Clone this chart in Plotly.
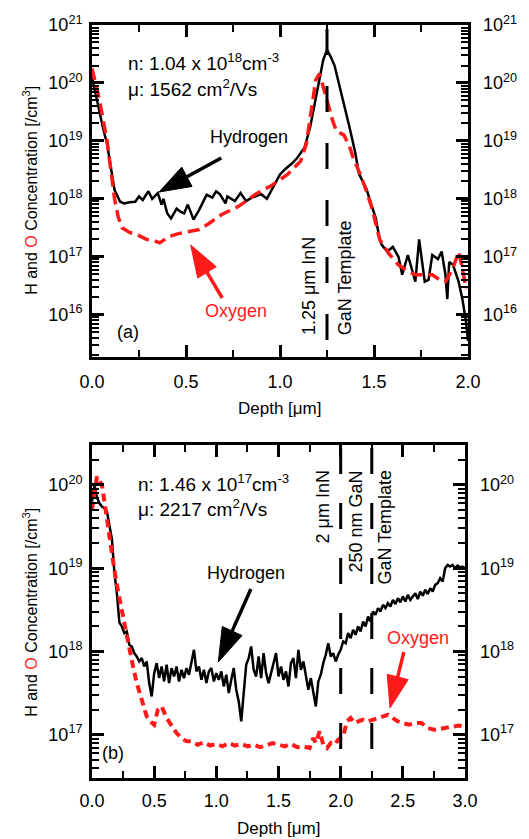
import numpy as np
import plotly.graph_objects as go

# ---------------- data (log10 of concentration, cm^-3) ----------------
# panel (a): 1.25 um InN on GaN template
hA_depth = [0.00,0.02,0.04,0.06,0.08,0.10,0.12,0.15,0.17,0.20,0.23,0.25,0.27,0.30,0.32,0.35,0.37,0.38,0.40,0.42,
            0.45,0.47,0.49,0.51,0.54,0.57,0.61,0.64,0.66,0.68,0.71,0.72,0.76,0.79,0.82,0.85,0.87,0.90,0.93,0.96,
            1.00,1.03,1.06,1.09,1.13,1.16,1.18,1.20,1.23,1.25,1.27,1.29,1.31,1.33,1.35,1.37,1.40,1.42,1.44,1.46,
            1.48,1.51,1.53,1.54,1.57,1.60,1.63,1.65,1.68,1.70,1.72,1.74,1.76,1.77,1.79,1.81,1.84,1.86,1.88,1.89,
            1.90,1.92,1.95,1.97,1.99,2.00]
hA_log = [20.10,19.80,19.47,19.20,18.95,18.55,18.15,17.95,17.92,17.94,17.95,18.04,17.98,18.13,18.00,18.10,17.90,18.00,17.75,17.66,
          17.83,17.78,17.75,17.90,17.64,17.81,18.07,18.02,18.13,18.08,17.92,18.04,17.96,18.10,17.96,18.02,18.04,18.08,18.00,18.18,
          18.42,18.52,18.60,18.70,18.88,19.23,19.55,19.92,20.40,20.57,20.45,20.30,20.05,19.78,19.50,19.23,18.80,18.43,18.30,18.17,
          17.96,17.66,17.30,17.21,17.09,17.17,17.00,16.69,17.03,16.79,16.57,17.30,16.74,16.57,16.60,17.03,16.96,17.09,16.69,16.27,
          16.91,16.86,16.57,16.27,15.87,15.55]
oA_depth = [0.00,0.02,0.04,0.06,0.08,0.10,0.12,0.14,0.16,0.20,0.24,0.29,0.33,0.36,0.41,0.46,0.50,0.57,0.62,0.69,
            0.78,0.87,0.95,1.04,1.11,1.14,1.17,1.19,1.21,1.23,1.25,1.28,1.30,1.34,1.37,1.39,1.43,1.46,1.49,1.53,
            1.58,1.63,1.68,1.72,1.77,1.81,1.85,1.88,1.92,1.95,1.97,1.99]
oA_log = [20.25,20.00,19.70,19.35,19.00,18.50,18.00,17.68,17.50,17.42,17.38,17.30,17.28,17.24,17.35,17.40,17.43,17.47,17.57,17.73,
          17.87,18.08,18.22,18.42,18.65,18.95,19.60,20.05,20.16,19.95,19.70,19.35,19.17,19.10,18.90,18.70,18.40,18.13,17.83,17.30,
          17.05,16.86,16.75,16.69,16.69,16.69,16.60,16.57,16.80,17.09,16.80,16.44]

# panel (b): 2 um InN / 250 nm GaN / GaN template
hB_depth = [0.00,0.02,0.04,0.06,0.08,0.10,0.12,0.14,0.16,0.18,0.20,0.22,0.24,0.26,0.28,0.30,0.32,0.34,0.36,0.38,
            0.40,0.42,0.44,0.46,0.48,0.50,0.52,0.54,0.56,0.58,0.60,0.62,0.64,0.66,0.68,0.70,0.72,0.74,0.76,0.78,
            0.80,0.82,0.84,0.86,0.88,0.90,0.92,0.94,0.96,0.98,1.00,1.02,1.04,1.06,1.08,1.10,1.12,1.14,1.16,1.18,
            1.20,1.22,1.24,1.26,1.28,1.30,1.32,1.34,1.36,1.38,1.40,1.42,1.44,1.46,1.48,1.50,1.52,1.54,1.56,1.58,
            1.60,1.62,1.64,1.66,1.68,1.70,1.72,1.74,1.76,1.78,1.80,1.82,1.84,1.86,1.88,1.90,1.92,1.94,1.96,1.98,
            2.00,2.02,2.04,2.06,2.08,2.10,2.12,2.14,2.16,2.18,2.20,2.22,2.24,2.26,2.28,2.30,2.32,2.34,2.36,2.38,
            2.40,2.42,2.44,2.46,2.48,2.50,2.52,2.54,2.56,2.58,2.60,2.62,2.64,2.66,2.68,2.70,2.72,2.74,2.76,2.78,
            2.80,2.82,2.84,2.86,2.88,2.90,2.92,2.94,2.96,2.98,3.00]
hB_log = [19.80,20.00,19.85,19.78,19.74,19.72,19.68,19.50,19.35,18.95,18.70,18.35,18.30,18.22,18.24,18.08,18.06,17.98,17.94,17.88,
          17.92,17.82,17.88,17.62,17.46,17.74,17.86,17.68,17.82,17.64,17.84,17.62,17.80,17.70,17.82,17.64,17.78,17.68,17.80,17.72,
          17.86,18.02,17.76,17.82,17.66,17.78,17.62,17.76,17.80,17.64,17.74,17.66,17.76,17.58,17.72,17.50,17.66,17.80,17.54,17.40,
          17.16,17.48,17.84,17.92,18.06,17.78,17.70,17.94,17.68,17.98,17.74,17.62,17.74,17.88,17.98,17.70,17.82,17.66,17.76,17.58,
          17.86,17.92,17.68,18.02,17.78,17.88,17.70,17.54,17.68,17.48,17.34,17.64,17.72,17.86,17.96,18.10,17.94,17.98,17.88,17.96,
          18.02,18.12,18.10,18.22,18.16,18.26,18.20,18.30,18.24,18.36,18.30,18.42,18.36,18.48,18.44,18.52,18.48,18.56,18.52,18.58,
          18.54,18.62,18.57,18.64,18.59,18.66,18.60,18.68,18.62,18.66,18.70,18.63,18.72,18.67,18.74,18.69,18.76,18.72,18.80,18.82,
          18.88,18.84,19.00,19.04,19.02,19.04,19.00,19.03,19.01,19.02,19.00]
oB_depth = [0.00,0.02,0.04,0.06,0.08,0.10,0.12,0.15,0.18,0.21,0.24,0.27,0.30,0.33,0.36,0.40,0.44,0.47,0.50,0.53,
            0.56,0.60,0.64,0.68,0.72,0.76,0.80,0.85,0.90,0.95,1.00,1.05,1.10,1.15,1.20,1.25,1.30,1.35,1.40,1.45,
            1.50,1.55,1.60,1.65,1.70,1.75,1.78,1.80,1.83,1.86,1.89,1.92,1.95,1.98,2.02,2.05,2.08,2.11,2.14,2.18,
            2.22,2.26,2.30,2.34,2.38,2.42,2.46,2.50,2.55,2.60,2.65,2.70,2.75,2.80,2.85,2.90,2.95,3.00]
oB_log = [19.70,19.95,20.10,20.05,20.00,19.80,19.58,19.25,18.98,18.72,18.48,18.25,18.05,17.82,17.62,17.40,17.22,17.16,17.12,17.30,
          17.34,17.20,17.10,17.02,16.96,16.92,16.92,16.88,16.91,16.87,16.89,16.86,16.90,16.87,16.89,16.86,16.88,16.85,16.87,16.90,
          16.88,16.86,16.89,16.85,16.86,16.84,16.96,16.90,17.04,16.88,16.84,16.90,16.88,16.94,16.98,17.16,17.20,17.14,17.16,17.18,
          17.16,17.18,17.20,17.22,17.24,17.20,17.16,17.14,17.12,17.14,17.14,17.08,17.06,17.07,17.08,17.10,17.11,17.09]

a_boundaries = [1.25]
b_boundaries = [2.0, 2.25]

a_xticks = [0.0, 0.5, 1.0, 1.5, 2.0]
a_xminor = [0.25, 0.75, 1.25, 1.75]
b_xticks = [0.0, 0.5, 1.0, 1.5, 2.0, 2.5, 3.0]
b_xminor = [0.25, 0.75, 1.25, 1.75, 2.25, 2.75]
a_ydecades = [16, 17, 18, 19, 20, 21]
b_ydecades = [17, 18, 19, 20]

# ---------------- geometry ----------------
W, H = 529, 839
L, R, T, B = 92, 56, 25, 61
PW, PH = W - L - R, H - T - B
FONT = "Arial, Liberation Sans, sans-serif"
RED = "#ff1a1a"


def px(x):
    return (x - L) / PW


def py(y):
    return (H - B - y) / PH


a_dom = [py(357), 1.0]
b_dom = [0.0, py(445)]


def dec_ticks(decs):
    vals = [10.0 ** d for d in decs]
    text = ["10<sup>%d</sup>" % d for d in decs]
    return vals, text


def minor_vals(lo, hi):
    return [m * 10.0 ** e for e in range(lo, hi) for m in range(2, 10)]


fig = go.Figure()

fig.add_trace(go.Scatter(x=hA_depth, y=[10 ** v for v in hA_log], mode="lines",
                         line=dict(color="black", width=2.5), xaxis="x", yaxis="y", showlegend=False))
fig.add_trace(go.Scatter(x=oA_depth, y=[10 ** v for v in oA_log], mode="lines",
                         line=dict(color=RED, width=3.5, dash="12px,6px"), xaxis="x", yaxis="y", showlegend=False))
fig.add_trace(go.Scatter(x=hB_depth, y=[10 ** v for v in hB_log], mode="lines",
                         line=dict(color="black", width=2.5), xaxis="x2", yaxis="y2", showlegend=False))
fig.add_trace(go.Scatter(x=oB_depth, y=[10 ** v for v in oB_log], mode="lines",
                         line=dict(color=RED, width=4, dash="8px,5px"), xaxis="x2", yaxis="y2", showlegend=False))
# invisible traces to hold the right-hand label axes
fig.add_trace(go.Scatter(x=[1.0], y=[1e18], mode="markers", marker=dict(opacity=0),
                         xaxis="x", yaxis="y3", showlegend=False, hoverinfo="skip"))
fig.add_trace(go.Scatter(x=[1.0], y=[1e18], mode="markers", marker=dict(opacity=0),
                         xaxis="x2", yaxis="y4", showlegend=False, hoverinfo="skip"))

tickfont = dict(family=FONT, size=18, color="black")
axis_common = dict(showline=True, linewidth=3, linecolor="black", mirror="ticks",
                   ticks="inside", ticklen=12, tickwidth=3, tickcolor="black",
                   showgrid=False, zeroline=False, tickfont=tickfont)

a_yv, a_yt = dec_ticks(a_ydecades)
b_yv, b_yt = dec_ticks(b_ydecades)

fig.update_layout(
    width=W, height=H, margin=dict(l=L, r=R, t=T, b=B),
    paper_bgcolor="white", plot_bgcolor="white",
    font=dict(family=FONT, size=17, color="black"),
    xaxis=dict(domain=[0, 1], anchor="y", range=[0, 2],
               tickvals=a_xticks, ticktext=["%.1f" % v for v in a_xticks], ticklabelstandoff=6,
               minor=dict(tickvals=a_xminor, ticks="inside", ticklen=7, tickwidth=2, tickcolor="black"),
               **axis_common),
    yaxis=dict(domain=a_dom, anchor="x", type="log", range=[15.27, 21.0],
               tickvals=a_yv, ticktext=a_yt, ticklabelstandoff=3,
               minor=dict(tickvals=minor_vals(15, 21), ticks="inside", ticklen=7, tickwidth=2, tickcolor="black"),
               **axis_common),
    yaxis3=dict(overlaying="y", anchor="x", side="right", type="log", range=[15.27, 21.0],
                tickvals=a_yv, ticktext=a_yt, ticks="", showline=False, showgrid=False,
                zeroline=False, tickfont=tickfont, ticklabelstandoff=14),
    xaxis2=dict(domain=[0, px(470)], anchor="y2", range=[0, 3],
                tickvals=b_xticks, ticktext=["%.1f" % v for v in b_xticks], ticklabelstandoff=4,
                minor=dict(tickvals=b_xminor, ticks="inside", ticklen=7, tickwidth=2, tickcolor="black"),
                **axis_common),
    yaxis2=dict(domain=b_dom, anchor="x2", type="log", range=[16.48, 20.48],
                tickvals=b_yv, ticktext=b_yt, ticklabelstandoff=3,
                minor=dict(tickvals=minor_vals(16, 21), ticks="inside", ticklen=7, tickwidth=2, tickcolor="black"),
                **axis_common),
    yaxis4=dict(overlaying="y2", anchor="x2", side="right", type="log", range=[16.48, 20.48],
                tickvals=b_yv, ticktext=b_yt, ticks="", showline=False, showgrid=False,
                zeroline=False, tickfont=tickfont, ticklabelstandoff=14),
)

# layer-boundary dashed lines
for xb in a_boundaries:
    fig.add_shape(type="line", xref="x", yref="y domain", x0=xb, x1=xb, y0=1, y1=0,
                  line=dict(color="black", width=3, dash="0px,4px,26px,27px"))
for xb in b_boundaries:
    fig.add_shape(type="line", xref="x2", yref="y2 domain", x0=xb, x1=xb, y0=1, y1=0,
                  line=dict(color="black", width=3, dash="0px,3px,26px,26px"))

ann = []


def text(x, y, s, color="black", xanchor="center", yanchor="middle", angle=0, size=17):
    ann.append(dict(xref="paper", yref="paper", x=px(x), y=py(y), text=s, showarrow=False,
                    xanchor=xanchor, yanchor=yanchor, textangle=angle,
                    font=dict(family=FONT, size=size, color=color)))


def arrow(tail, tip, color, hl=32, hw=11):
    tx, ty = tip
    sx, sy = tail
    d = np.hypot(tx - sx, ty - sy)
    ux, uy = (tx - sx) / d, (ty - sy) / d
    bx, by = tx - ux * hl, ty - uy * hl
    nx, ny = -uy, ux
    fig.add_shape(type="line", xref="paper", yref="paper",
                  x0=px(sx), y0=py(sy), x1=px(bx + ux * 2), y1=py(by + uy * 2),
                  line=dict(color=color, width=3.5))
    pts = [(tx, ty), (bx + nx * hw, by + ny * hw), (bx - nx * hw, by - ny * hw)]
    path = "M %f,%f L %f,%f L %f,%f Z" % tuple(v for p in pts for v in (px(p[0]), py(p[1])))
    fig.add_shape(type="path", xref="paper", yref="paper", path=path,
                  fillcolor=color, line=dict(color=color, width=1))


ytitle = "H and <span style='color:%s'>O</span> Concentration [/cm<sup>3</sup>]" % RED

# panel (a)
text(126, 62, "n: 1.04 x 10<sup>18</sup>cm<sup>-3</sup>", xanchor="left", size=19)
text(126, 88, "μ: 1562 cm<sup>2</sup>/Vs", xanchor="left", size=19)
text(251, 137, "Hydrogen", size=18)
arrow((223, 158), (160, 192), "black")
text(238, 311, "Oxygen", color=RED, size=18)
arrow((224, 298), (192, 245), RED)
text(128, 332, "(a)", size=18)
text(312, 337, "1.25 μm InN", angle=-90, yanchor="bottom", size=18)
text(348, 337, "GaN Template", angle=-90, yanchor="bottom", size=18)
text(282, 408, "Depth [μm]", size=17)
text(29, 190, ytitle, angle=-90, size=16)

# panel (b)
text(137, 483, "n: 1.46 x 10<sup>17</sup>cm<sup>-3</sup>", xanchor="left", size=19)
text(137, 508, "μ: 2217 cm<sup>2</sup>/Vs", xanchor="left", size=19)
text(248, 573, "Hydrogen", size=18)
arrow((253, 589), (220, 662), "black", hl=34, hw=11)
text(422, 638, "Oxygen", color=RED, size=18)
arrow((408, 652), (394, 708), RED)
text(113, 753, "(b)", size=18)
text(327, 468, "2 μm InN", angle=-90, yanchor="top", size=18)
text(360, 468, "250 nm GaN", angle=-90, yanchor="top", size=18)
text(388, 468, "GaN Template", angle=-90, yanchor="top", size=18)
text(281, 828, "Depth [μm]", size=17)
text(29, 612, ytitle, angle=-90, size=16)

fig.update_layout(annotations=ann)

fig.write_html("out.html", config={"displayModeBar": False},
               post_script="document.body.style.margin='0px';document.body.style.overflow='hidden';")
